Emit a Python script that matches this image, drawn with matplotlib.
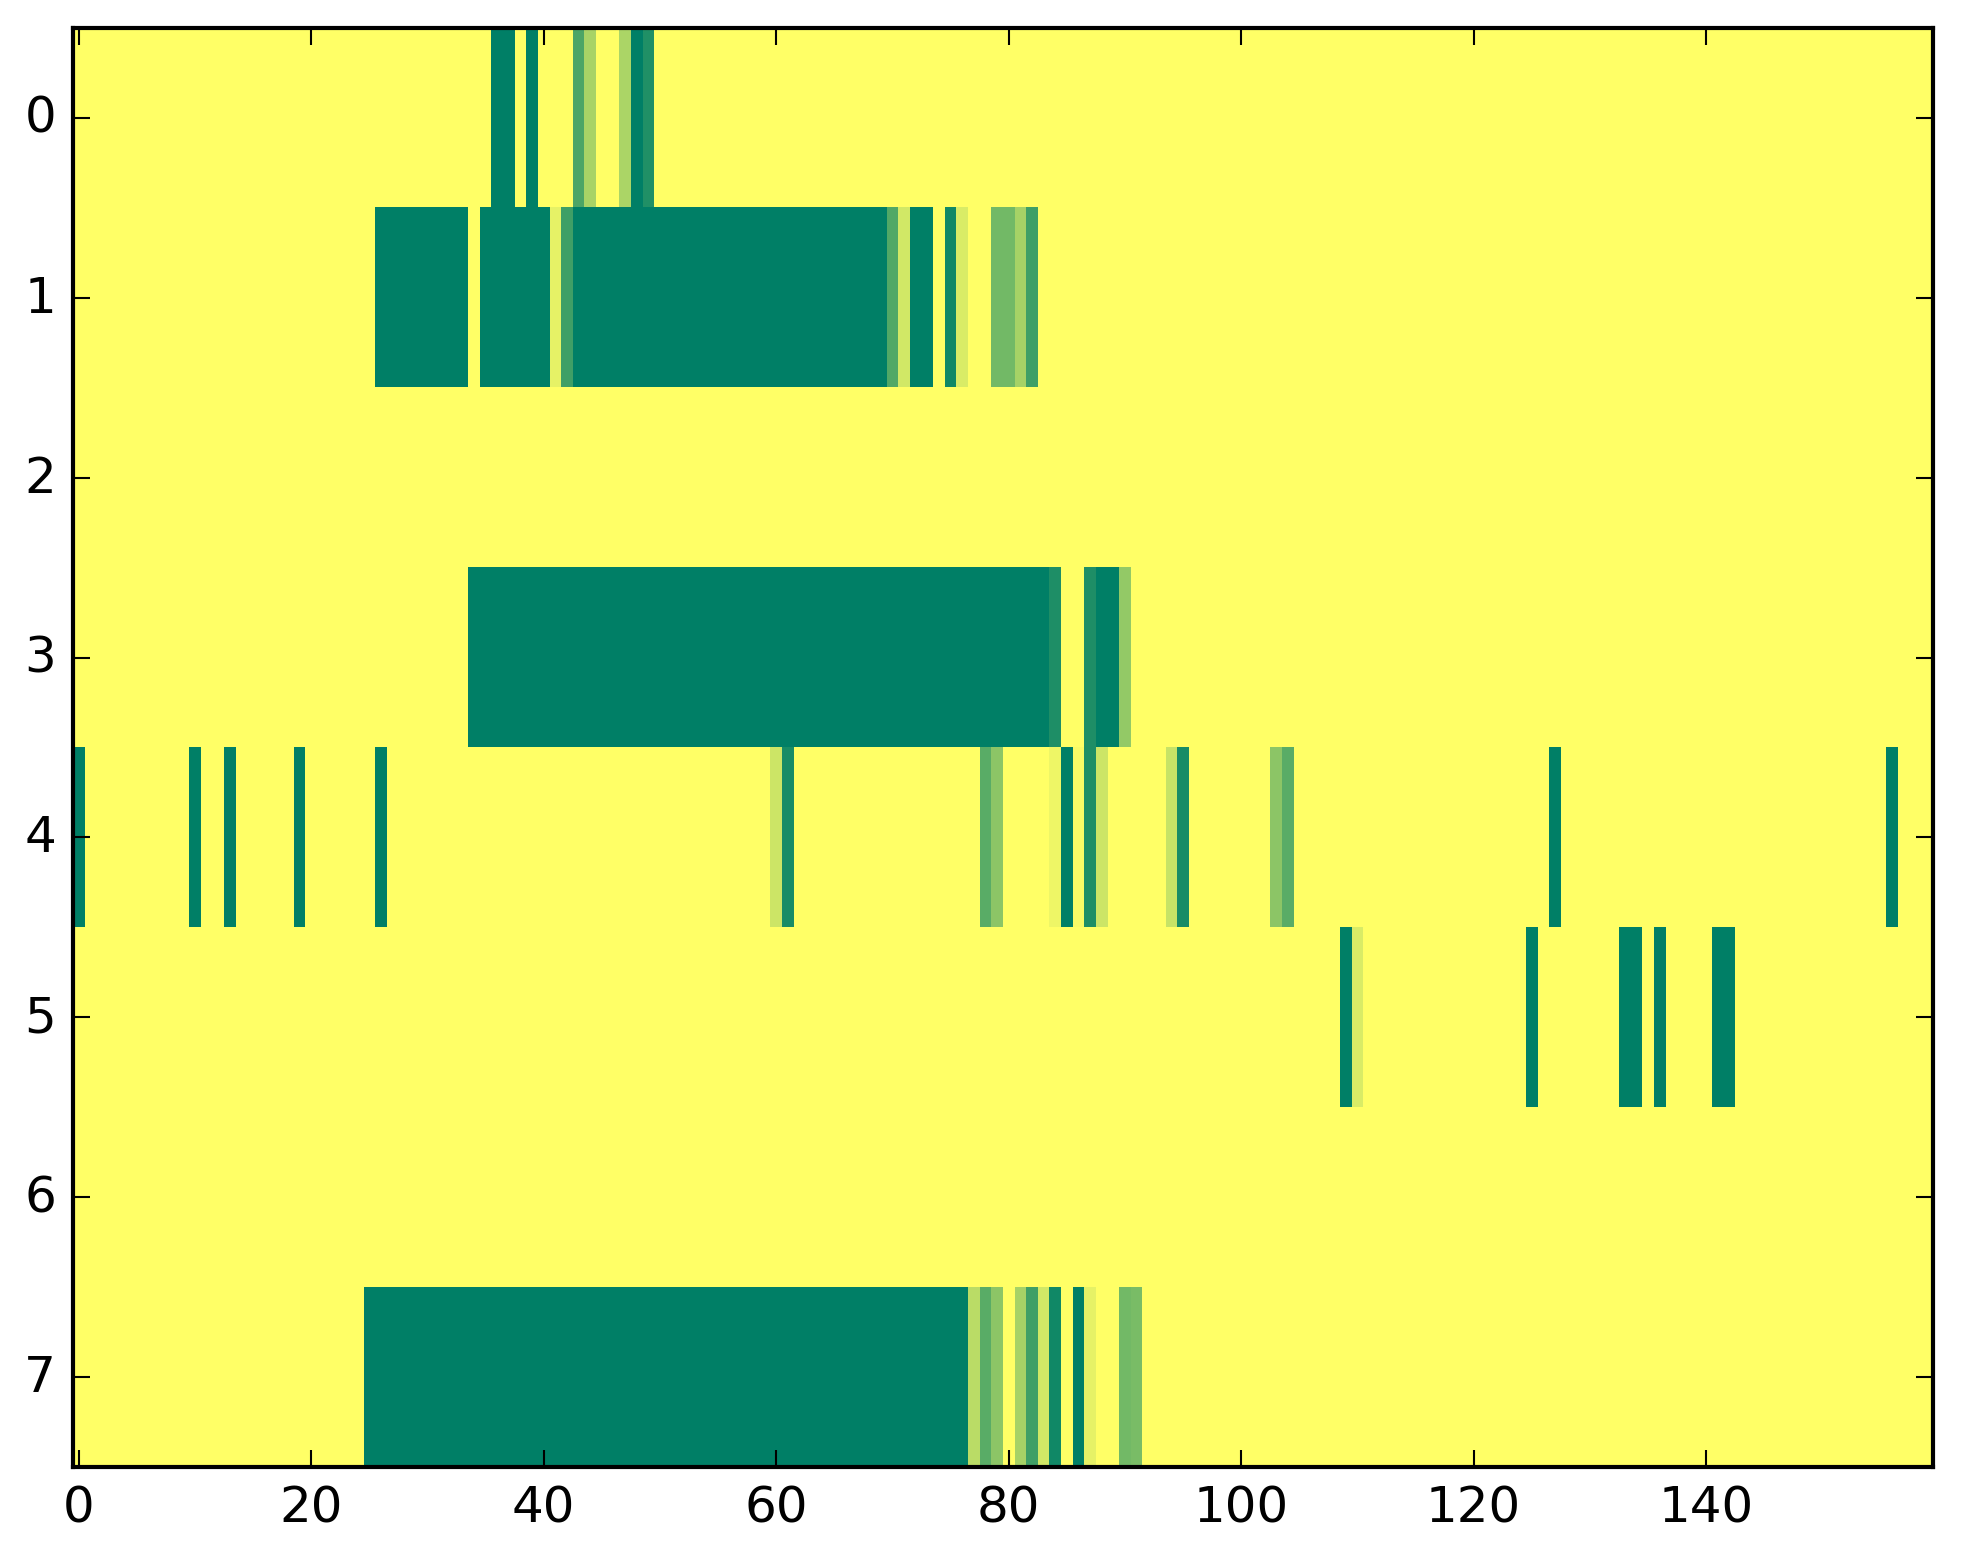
import numpy as np
import matplotlib
matplotlib.use("Agg")
import matplotlib.pyplot as plt

plt.style.use('classic')

n_rows = 8
n_cols = 160

# (first_col, last_col, value) segments per row; everything else is 0
row0 = [(36, 37, 1.0), (39, 39, 1.0), (43, 43, 0.70), (44, 44, 0.34), (47, 47, 0.33),
        (48, 48, 1.0), (49, 49, 0.87)]
row1 = [(26, 33, 1.0), (35, 40, 1.0), (41, 41, 0.10), (42, 42, 0.75), (43, 69, 1.0),
        (70, 70, 0.68), (71, 71, 0.18), (72, 73, 1.0), (75, 75, 0.93), (76, 76, 0.15),
        (79, 80, 0.55), (81, 81, 0.35), (82, 82, 0.75)]
row2 = []
row3 = [(34, 83, 1.0), (84, 84, 0.88), (87, 87, 0.88), (88, 89, 1.0), (90, 90, 0.42)]
row4 = [(0, 0, 1.0), (10, 10, 1.0), (13, 13, 1.0), (19, 19, 1.0), (26, 26, 1.0),
        (60, 60, 0.20), (61, 61, 0.90), (78, 78, 0.65), (79, 79, 0.45), (84, 84, 0.07),
        (85, 85, 1.0), (86, 86, 0.03), (87, 87, 0.88), (88, 88, 0.20), (94, 94, 0.22),
        (95, 95, 0.90), (103, 103, 0.45), (104, 104, 0.65), (127, 127, 1.0), (156, 156, 1.0)]
row5 = [(109, 109, 1.0), (110, 110, 0.15), (125, 125, 1.0), (133, 134, 1.0),
        (136, 136, 1.0), (141, 142, 1.0)]
row6 = []
row7 = [(25, 76, 1.0), (77, 77, 0.27), (78, 78, 0.65), (79, 79, 0.45), (81, 81, 0.35),
        (82, 82, 0.75), (83, 83, 0.18), (84, 84, 0.93), (86, 86, 1.0), (87, 87, 0.10),
        (90, 90, 0.55), (91, 91, 0.52)]

rows = [row0, row1, row2, row3, row4, row5, row6, row7]
x_ticks = [0, 20, 40, 60, 80, 100, 120, 140]
y_ticks = [0, 1, 2, 3, 4, 5, 6, 7]

data = np.zeros((n_rows, n_cols))
for r, segs in enumerate(rows):
    for a, b, v in segs:
        data[r, a:b + 1] = v

W, H, DPI = 1963, 1564, 300
fig = plt.figure(figsize=(W / DPI, H / DPI), dpi=DPI, facecolor='white')
left, right, top, bottom = 72.9, 1932.7, 28.7, 1468.3
ax = fig.add_axes([left / W, 1 - bottom / H, (right - left) / W, (bottom - top) / H])
ax.imshow(data, cmap='summer_r', vmin=0, vmax=1, aspect='auto', interpolation='nearest')
ax.set_xticks(x_ticks)
ax.set_yticks(y_ticks)
ax.set_xlim(-0.5, n_cols - 0.5)
ax.set_ylim(n_rows - 0.5, -0.5)

fig.savefig('out.png', dpi=DPI, facecolor='white')
